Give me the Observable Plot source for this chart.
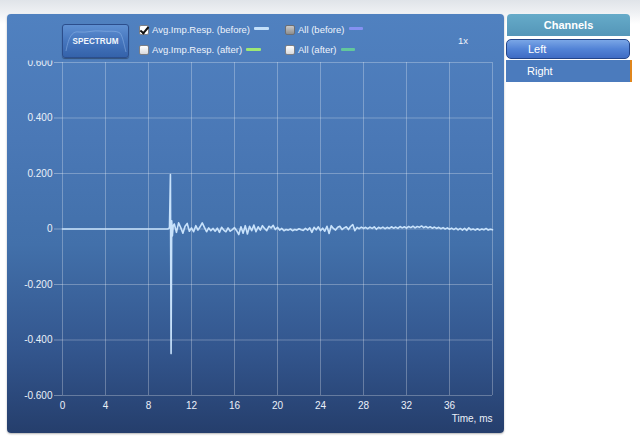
<!DOCTYPE html>
<html><head><meta charset="utf-8">
<script src="https://cdn.jsdelivr.net/npm/d3@7"></script>
<script src="https://cdn.jsdelivr.net/npm/@observablehq/plot@0.6"></script>
<style>
body{margin:0;width:640px;height:439px;overflow:hidden;position:relative;background:linear-gradient(#e0e4e9 0px,#eef0f3 12px,#fff 24px);font-family:"Liberation Sans",Arial,sans-serif;}
#panel{position:absolute;left:7px;top:14px;width:497px;height:419px;border-radius:4px;background:linear-gradient(#5081c0 0%,#4a78b6 30%,#4270aa 55%,#33568e 80%,#253e6c 100%);box-shadow:0 1px 2px rgba(0,0,0,0.3);}
#chart{position:absolute;left:0;top:0;}
.lbl{position:absolute;color:#eef3fb;font-size:9.5px;line-height:11px;white-space:nowrap;}
.cb{position:absolute;width:8px;height:8px;border:1px solid #7c7f86;border-radius:2px;background:linear-gradient(#ffffff,#d9dadd);}
.cb.on{background:#fff;}
.cb.on::after{content:"";position:absolute;left:2px;top:-1px;width:3px;height:7px;border:solid #111;border-width:0 2px 2px 0;transform:rotate(40deg);}
.cb.mid{background:linear-gradient(#c9c9c9,#8d8d8d);border-color:#6c6e73;}
.sw{position:absolute;height:3px;border-radius:1px;}
#spec{position:absolute;left:62px;top:24px;width:65px;height:32px;border:1px solid #2c4e8c;border-radius:3px;background:linear-gradient(#5f90d2,#4676be 50%,#3462aa);box-shadow:0 1px 1px rgba(0,0,0,0.35);}
#spec span{position:absolute;left:0;right:0;top:11px;text-align:center;color:#f2f6fc;font-size:9px;font-weight:bold;letter-spacing:0.1px;transform:scaleX(0.9);}
#spec svg{position:absolute;left:0;top:0;}
#chHead{position:absolute;left:507px;top:14px;width:123px;height:22px;border-radius:4px 4px 0 0;background:linear-gradient(#66abc9,#5496b8);color:#fff;font-size:11px;font-weight:bold;text-align:center;line-height:22px;}
#chLeft{position:absolute;left:506px;top:39px;width:122px;height:18px;border:1px solid #23458a;border-radius:5px;background:linear-gradient(#7aa6e6,#5283d6 50%,#3f6cc4);color:#fff;font-size:11px;line-height:18px;box-sizing:content-box;}
#chLeft span,#chRight span{position:absolute;left:21px;}
#chRight{position:absolute;left:506px;top:60px;width:124px;height:22px;background:#4b7bbd;border-right:2px solid #e0861c;color:#fff;font-size:11px;line-height:22px;}
</style></head>
<body>
<div id="panel"></div>
<div id="chart"></div>
<div id="spec"><svg width="65" height="32"><path d="M3,26 C6,10 10,6 16,7 C24,8 30,5 38,6 C46,7 52,5 57,8 C60,12 61,20 63,27" fill="none" stroke="#9cc0ee" stroke-opacity="0.55" stroke-width="0.8"/></svg><span>SPECTRUM</span></div>
<div class="cb on" style="left:139px;top:25px"></div>
<div class="lbl" style="left:152px;top:24px">Avg.Imp.Resp. (before)</div>
<div class="sw" style="left:254px;top:27px;width:15px;background:#c4e0fa"></div>
<div class="cb mid" style="left:285px;top:25px"></div>
<div class="lbl" style="left:298px;top:24px">All (before)</div>
<div class="sw" style="left:349px;top:27px;width:14px;background:#8591f2"></div>
<div class="cb" style="left:139px;top:45px"></div>
<div class="lbl" style="left:152px;top:44px">Avg.Imp.Resp. (after)</div>
<div class="sw" style="left:246px;top:48px;width:15px;background:#9ee874"></div>
<div class="cb" style="left:285px;top:45px"></div>
<div class="lbl" style="left:298px;top:44px">All (after)</div>
<div class="sw" style="left:341px;top:48px;width:14px;background:#62c79c"></div>
<div class="lbl" style="left:458px;top:35px">1x</div>
<div id="chHead">Channels</div>
<div id="chLeft"><span>Left</span></div>
<div id="chRight"><span>Right</span></div>
<script>
// Axis ticks
const xTicks = [0, 4, 8, 12, 16, 20, 24, 28, 32, 36];
const xGridLines = [0, 4, 8, 12, 16, 20, 24, 28, 32, 36, 40];
const yTicks = [-0.6, -0.4, -0.2, 0, 0.2, 0.4, 0.6];

// Onset + main impulse (ms, amplitude)
const onsetTimes  = [0, 9.8, 9.95, 10.04, 10.1, 10.16, 10.22, 10.3];
const onsetValues = [0, 0, 0.004, 0.196, -0.449, 0.03, -0.025, 0.012];

// Tail, sampled every 0.2 ms from 10.4 ms to 40 ms
const tailStart = 10.4, tailStep = 0.2;
const tailValues = [
  0.018, -0.012, 0.022, 0.005, -0.015, 0.010, 0.020, -0.008, 0.004, -0.010,
  0.012, -0.004, 0.008, 0.022, 0.006, -0.010, 0.004, -0.006, 0.002, -0.008,
  0.003, -0.012, 0.006, -0.004, -0.010, 0.004, -0.008, -0.002, 0.005, -0.006,
  -0.020, 0.008, -0.015, 0.012, -0.018, 0.010, -0.006, 0.014, -0.010, 0.008,
  -0.004, 0.012, 0.002, -0.006, 0.010, 0.004, 0.013, -0.002, 0.006, -0.004,
  0.002, -0.006, -0.002, -0.004, 0.000, -0.006, -0.002, -0.004, 0.001, -0.003,
  -0.005, 0.002, -0.004, 0.004, -0.012, 0.006, -0.003, 0.008, -0.006, 0.003,
  -0.008, 0.010, -0.016, 0.012, 0.002, -0.004, 0.006, 0.010, -0.002, 0.004,
  0.008, -0.002, 0.009, 0.016, -0.006, 0.006, 0.001, 0.007, 0.002, 0.006,
  0.001, 0.007, 0.002, 0.008, -0.001, 0.006, 0.002, 0.007, 0.001, 0.006,
  0.002, 0.008, 0.003, 0.007, 0.002, 0.009, 0.004, 0.008, 0.003, 0.009,
  0.005, 0.010, 0.004, 0.009, 0.006, 0.011, 0.005, 0.009, 0.004, 0.008,
  0.003, 0.007, 0.002, 0.006, 0.001, 0.005, 0.000, 0.004, -0.001, 0.003,
  -0.002, 0.003, -0.003, 0.002, -0.004, 0.002, -0.005, 0.004, -0.003, 0.000,
  -0.004, 0.001, -0.004, 0.000, -0.003, 0.002, -0.004, -0.001, -0.003
];

const data = onsetTimes.map((t, i) => ({t, v: onsetValues[i]}))
  .concat(tailValues.map((v, i) => ({t: +(tailStart + i * tailStep).toFixed(2), v})));

const gridStroke = "#ffffff";
const plot = Plot.plot({
  width: 505, height: 439,
  marginLeft: 62, marginRight: 13, marginTop: 62, marginBottom: 44,
  style: {background: "transparent", color: "#eaf0f9", fontFamily: "Liberation Sans, Arial, sans-serif", fontSize: "10px", overflow: "visible"},
  x: {domain: [0, 40]},
  y: {domain: [-0.6, 0.6]},
  marks: [
    Plot.gridX(xGridLines, {stroke: gridStroke, strokeOpacity: 0.28, strokeWidth: 1}),
    Plot.gridY(yTicks, {stroke: gridStroke, strokeOpacity: 0.28, strokeWidth: 1}),
    Plot.axisX({ticks: xTicks, tickSize: 0, tickPadding: 6, tickFormat: d => String(d), label: null, fill: "#eaf0f9"}),
    Plot.axisY({ticks: yTicks, tickSize: 8, tickPadding: 2, tickFormat: d => d === 0 ? "0" : d3.format(".3f")(d).replace("−", "-"), label: null, stroke: gridStroke, strokeOpacity: 0.35, fill: "#eaf0f9"}),
    Plot.line(data, {x: "t", y: "v", stroke: "#c8e2fb", strokeWidth: 1.6, strokeLinejoin: "round"}),
    Plot.text(["Time, ms"], {frameAnchor: "bottom-right", dy: 26, textAnchor: "end", fill: "#eaf0f9", fontSize: 10})
  ]
});
document.getElementById("chart").appendChild(plot);
// top tick label is partly hidden under the header strip
const svg = d3.select(plot);
svg.append("defs").append("clipPath").attr("id", "topclip")
  .append("rect").attr("x", 0).attr("y", 60).attr("width", 505).attr("height", 379);
svg.selectAll('g[aria-label="y-axis tick label"]').attr("clip-path", "url(#topclip)");
</script>
</body></html>
